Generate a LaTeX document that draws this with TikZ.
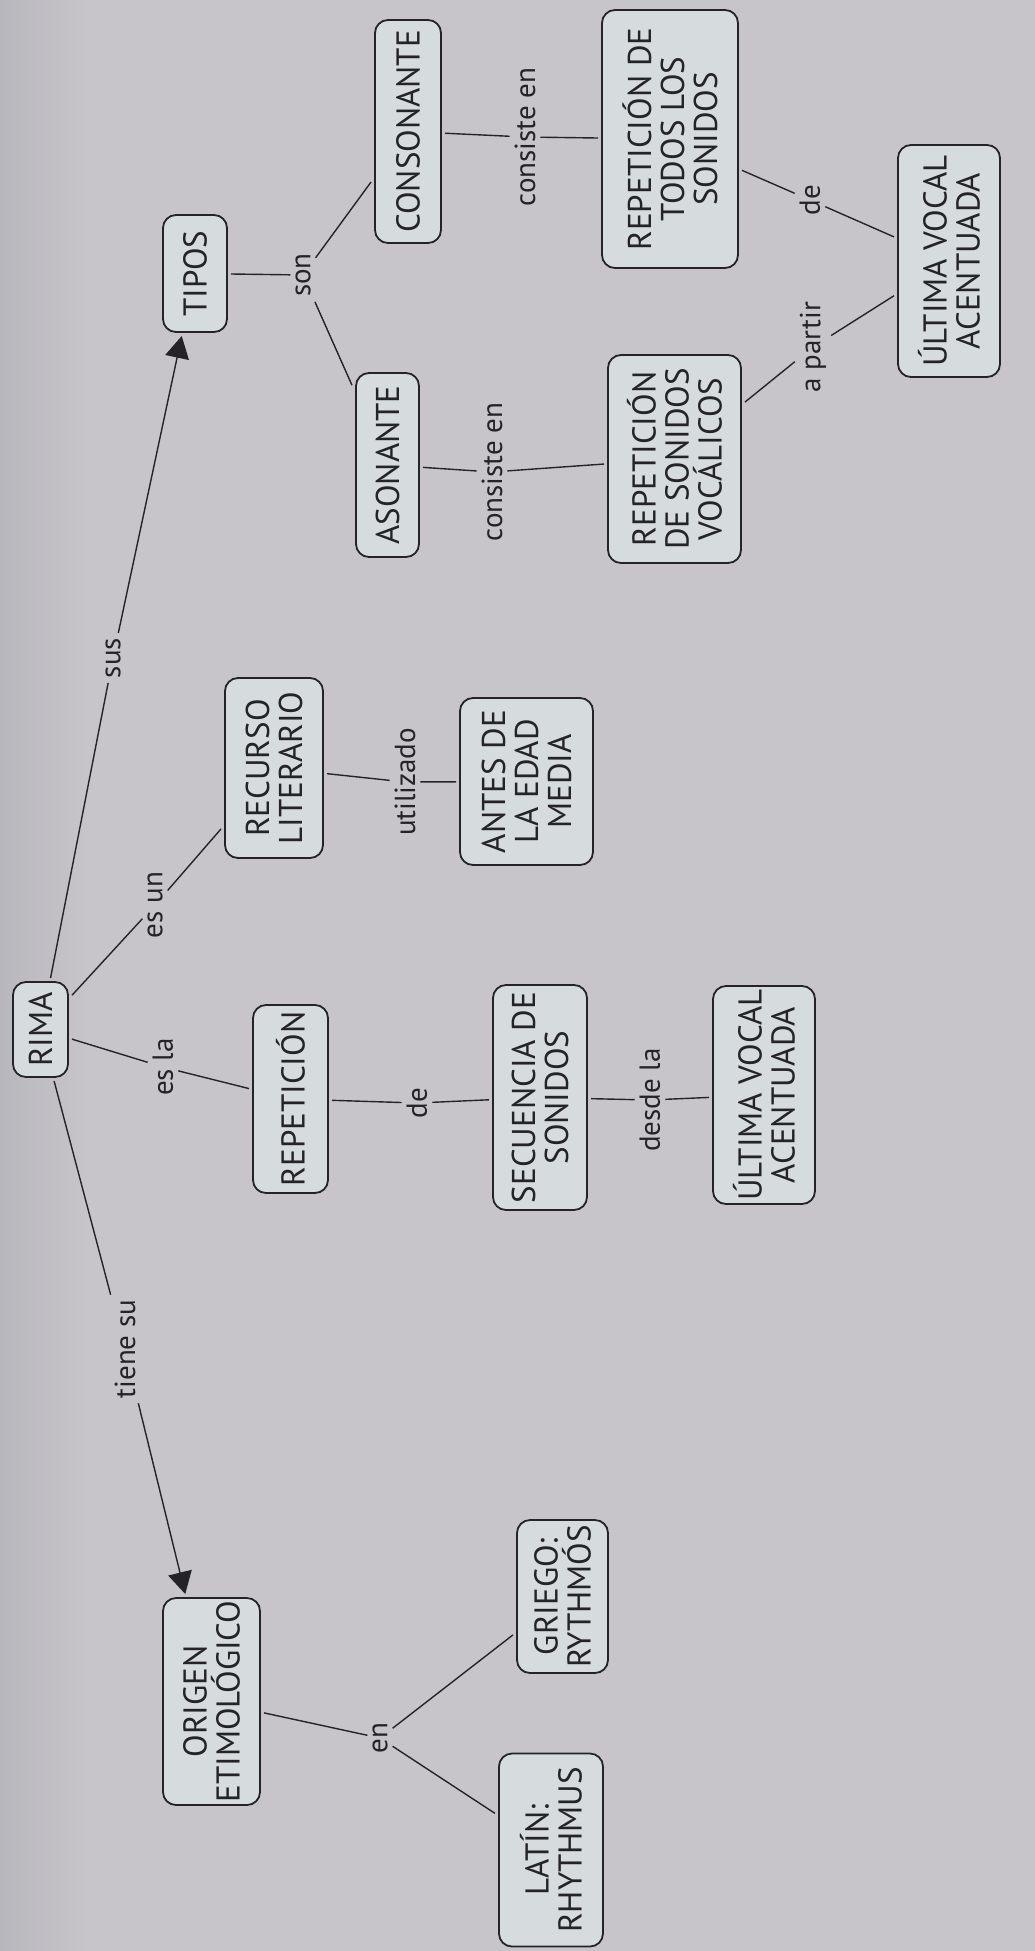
\documentclass[tikz,border=0pt]{standalone}
\usepackage{fontspec}
\setmainfont{PT Sans}
\usetikzlibrary{arrows.meta}
\definecolor{paper}{RGB}{199,197,202}
\definecolor{paperdark}{RGB}{184,183,189}
\definecolor{boxfill}{RGB}{214,219,222}
\definecolor{ink}{RGB}{36,36,40}
\begin{document}
\begin{tikzpicture}[x=1pt,y=-1pt,
  concept/.style 2 args={draw=ink, line width=1.8pt, fill=boxfill,
    rounded corners=13pt, rotate=90, minimum width=#1pt, minimum height=#2pt,
    inner sep=0pt, outer sep=4pt, align=center, text=ink,
    font=\fontsize{33}{33}\selectfont},
  linkword/.style={rotate=90, text=ink, font=\fontsize{29}{30}\selectfont,
    inner sep=5pt, outer sep=0pt},
  link/.style={draw=ink, line width=1.4pt},
  arrowlink/.style={link, -{Triangle[length=22pt,width=24pt]}}]

% paper background, a little darker towards the left edge
\useasboundingbox (0,0) rectangle (1035,1951);
\fill[paper] (0,0) rectangle (1035,1951);
\shade[left color=paperdark, right color=paper] (0,0) rectangle (90,1951);

% concepts
\node[concept={117}{64}]  (tipos)     at (195,273.5)   {TIPOS};
\node[concept={223}{66}]  (cons)      at (408,131.5)   {CONSONANTE};
\node[concept={184}{63}]  (ason)      at (387.5,465)   {ASONANTE};
\node[concept={258}{136}] (reptodos)  at (670,139)     {REPETICIÓN DE\\TODOS LOS\\SONIDOS};
\node[concept={232}{102}] (ultA)      at (949,261)     {ÚLTIMA VOCAL\\ACENTUADA};
\node[concept={208}{133}] (repvoc)    at (674.5,459)   {REPETICIÓN\\DE SONIDOS\\VOCÁLICOS};
\node[concept={180}{98}]  (recurso)   at (274,768)     {RECURSO\\LITERARIO};
\node[concept={167}{133}] (antes)     at (526.5,781.5) {ANTES DE\\LA EDAD\\MEDIA};
\node[concept={95}{55}]   (rima)      at (40.5,1029.5) {RIMA};
\node[concept={188}{75}]  (repet)     at (290.5,1099)  {REPETICIÓN};
\node[concept={225}{94}]  (secuencia) at (540,1097.5)  {SECUENCIA DE\\SONIDOS};
\node[concept={218}{102}] (ultB)      at (764,1095)    {ÚLTIMA VOCAL\\ACENTUADA};
\node[concept={207}{97}]  (origen)    at (211.5,1701.5){ORIGEN\\ETIMOLÓGICO};
\node[concept={153}{91}]  (griego)    at (562.5,1596.5){GRIEGO:\\RYTHMÓS};
\node[concept={193}{104}] (latin)     at (551,1850)    {LATÍN:\\RHYTHMUS};

% linking words
\node[linkword] (lsus)     at (113,658)  {sus};
\node[linkword] (lson)     at (303,275)  {son};
\node[linkword] (lconsA)   at (525,137)  {consiste en};
\node[linkword] (lconsB)   at (492,472)  {consiste en};
\node[linkword] (lde1)     at (810,200)  {de};
\node[linkword] (lapartir) at (813,347)  {a partir};
\node[linkword] (lesun)    at (155,905)  {es un};
\node[linkword] (lutil)    at (405,782)  {utilizado};
\node[linkword] (lesla)    at (163,1067) {es la};
\node[linkword] (lde2)     at (417,1103) {de};
\node[linkword] (ldesde)   at (650,1100) {desde la};
\node[linkword] (ltiene)   at (125,1349) {tiene su};
\node[linkword] (len)      at (380,1738) {en};

% connectors
\draw[link] (rima) -- (lsus);
\draw[arrowlink] (lsus) -- (tipos);
\draw[link] (rima) -- (ltiene);
\draw[arrowlink] (ltiene) -- (origen);
\draw[link] (rima) -- (lesla);
\draw[link] (lesla) -- (repet);
\draw[link] (rima) -- (lesun);
\draw[link] (lesun) -- (recurso);
\draw[link] (recurso) -- (lutil);
\draw[link] (lutil) -- (antes);
\draw[link] (repet) -- (lde2);
\draw[link] (lde2) -- (secuencia);
\draw[link] (secuencia) -- (ldesde);
\draw[link] (ldesde) -- (ultB);
\draw[link] (tipos) -- (lson);
\draw[link] (lson) -- (cons);
\draw[link] (lson) -- (ason);
\draw[link] (cons) -- (lconsA);
\draw[link] (lconsA) -- (reptodos);
\draw[link] (ason) -- (lconsB);
\draw[link] (lconsB) -- (repvoc);
\draw[link] (reptodos) -- (lde1);
\draw[link] (lde1) -- (ultA);
\draw[link] (repvoc) -- (lapartir);
\draw[link] (lapartir) -- (ultA);
\draw[link] (origen) -- (len);
\draw[link] (len) -- (griego);
\draw[link] (len) -- (latin);
\end{tikzpicture}
\end{document}
